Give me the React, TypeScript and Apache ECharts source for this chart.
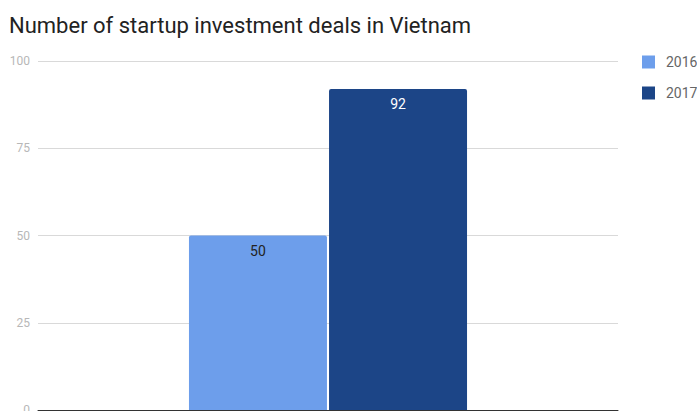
import React, { useEffect, useRef } from "react";
import * as echarts from "echarts";

const categories = [""];
const seriesNames = ["2016", "2017"];
const values2016 = [50];
const values2017 = [92];
const yTicks = [0, 25, 50, 75, 100];
const colors = ["#6d9eeb", "#1c4587"];

export default function App() {
  const ref = useRef<HTMLDivElement>(null);
  useEffect(() => {
    if (!ref.current) return;
    const chart = echarts.init(ref.current, null, { renderer: "svg" });
    chart.setOption({
      animation: false,
      textStyle: { fontFamily: "Roboto" },
      title: {
        text: "Number of startup investment deals in Vietnam",
        left: 4,
        top: 9,
        textStyle: { fontFamily: "Roboto", fontSize: 22, fontWeight: "normal", color: "#222" },
      },
      legend: {
        orient: "vertical",
        left: 637,
        top: 50,
        itemWidth: 13,
        itemHeight: 13,
        itemGap: 17,
        icon: "rect",
        data: seriesNames,
        textStyle: { color: "#666", fontSize: 14, fontFamily: "Roboto", padding: [0, 0, 0, 6] },
      },
      grid: { left: 38, right: 79, top: 61, bottom: 1, containLabel: false, outerBoundsMode: "none" },
      xAxis: {
        type: "category",
        data: categories,
        axisLine: { show: true, lineStyle: { color: "#333", width: 1 } },
        axisTick: { show: false },
        axisLabel: { show: false },
      },
      yAxis: {
        type: "value",
        min: yTicks[0],
        max: yTicks[yTicks.length - 1],
        interval: 25,
        axisLine: { show: false },
        axisTick: { show: false },
        axisLabel: { color: "#b7b7b7", fontSize: 12, margin: 8, fontFamily: "Roboto" },
        splitLine: { lineStyle: { color: "#d9d9d9", width: 1 } },
      },
      series: [
        {
          name: seriesNames[0],
          type: "bar",
          data: values2016,
          barWidth: 138,
          barGap: "1.5%",
          itemStyle: { color: colors[0], borderRadius: [2, 2, 0, 0] },
          label: {
            show: true,
            position: "insideTop",
            distance: 8,
            color: "#222",
            fontSize: 14,
            fontFamily: "Roboto",
          },
        },
        {
          name: seriesNames[1],
          type: "bar",
          data: values2017,
          barWidth: 138,
          barGap: "1.5%",
          itemStyle: { color: colors[1], borderRadius: [2, 2, 0, 0] },
          label: {
            show: true,
            position: "insideTop",
            distance: 8,
            color: "#fff",
            fontSize: 14,
            fontFamily: "Roboto",
          },
        },
      ],
    });
    return () => chart.dispose();
  }, []);
  return (
    <div
      ref={ref}
      style={{ position: "fixed", left: 0, top: 0, width: 697, height: 411, background: "#fff" }}
    />
  );
}
